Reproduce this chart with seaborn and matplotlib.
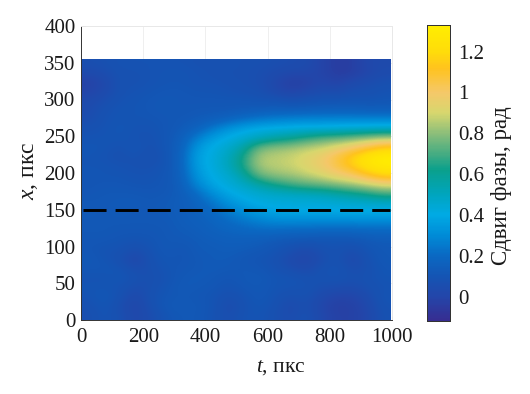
import numpy as np
import seaborn as sns
import matplotlib.pyplot as plt
from matplotlib.colors import LinearSegmentedColormap
from matplotlib.transforms import Affine2D

# -----------------------------
# DATA
# -----------------------------
t_step = 49.8
x_step = 12.68

# rows go from x = 0 upwards, columns from t = 0 rightwards
phase_shift = np.array([
    [.06, .10, .07, .01, .05, .10, .12, .12, .09, .05, .09, .10, .07, .04, .08, .02, -.02, -.02, .01, .08],
    [.07, .11, .06, .00, .07, .12, .13, .12, .10, .04, .08, .11, .08, .03, .07, .01, -.03, -.02, .02, .09],
    [.09, .12, .08, .02, .08, .11, .12, .11, .10, .06, .09, .12, .09, .06, .08, .03, .00, .00, .04, .10],
    [.10, .10, .09, .05, .07, .10, .13, .12, .11, .09, .11, .12, .10, .09, .09, .06, .05, .04, .07, .09],
    [.09, .09, .11, .08, .06, .09, .12, .13, .12, .10, .12, .13, .10, .10, .08, .08, .09, .07, .08, .10],
    [.11, .11, .10, .05, .07, .10, .11, .12, .13, .12, .12, .11, .09, .06, .03, .08, .10, .05, .07, .11],
    [.12, .10, .07, .01, .08, .11, .10, .12, .13, .13, .11, .10, .08, .03, .00, .05, .09, .02, .08, .12],
    [.11, .09, .09, .05, .09, .12, .10, .13, .13, .14, .13, .12, .10, .07, .03, .07, .09, .05, .10, .12],
    [.11, .11, .10, .09, .10, .12, .12, .13, .14, .15, .15, .14, .12, .11, .10, .10, .10, .10, .12, .13],
    [.12, .12, .11, .11, .11, .12, .13, .14, .16, .17, .18, .19, .19, .18, .18, .17, .17, .17, .18, .18],
    [.12, .12, .12, .12, .12, .12, .14, .15, .17, .20, .23, .26, .28, .28, .28, .28, .28, .28, .28, .28],
    [.13, .12, .13, .12, .12, .13, .14, .16, .19, .24, .30, .34, .37, .38, .38, .38, .38, .39, .39, .39],
    [.12, .12, .13, .13, .12, .13, .14, .17, .23, .31, .37, .41, .42, .43, .43, .43, .44, .45, .45, .46],
    [.11, .12, .12, .12, .11, .12, .14, .20, .30, .38, .42, .45, .47, .48, .49, .51, .54, .58, .62, .68],
    [.10, .11, .11, .10, .10, .11, .15, .28, .38, .43, .48, .55, .62, .68, .72, .74, .78, .82, .87, .92],
    [.11, .10, .10, .09, .09, .11, .16, .33, .41, .45, .56, .74, .80, .82, .86, .90, .96, 1.00, 1.10, 1.18],
    [.10, .10, .09, .08, .08, .10, .17, .36, .42, .50, .64, .84, .86, .88, .92, .97, 1.05, 1.15, 1.25, 1.30],
    [.10, .09, .07, .09, .06, .10, .17, .37, .42, .50, .64, .84, .86, .88, .92, .97, 1.06, 1.17, 1.27, 1.32],
    [.11, .10, .08, .11, .07, .11, .16, .34, .41, .46, .56, .76, .80, .82, .86, .88, .94, 1.00, 1.08, 1.16],
    [.09, .10, .10, .09, .08, .11, .15, .26, .36, .41, .45, .50, .56, .60, .66, .72, .74, .78, .82, .86],
    [.08, .09, .11, .09, .09, .11, .13, .17, .25, .33, .38, .41, .42, .43, .44, .44, .45, .46, .47, .48],
    [.05, .09, .10, .10, .10, .11, .12, .13, .15, .18, .22, .25, .27, .28, .29, .29, .29, .29, .29, .29],
    [.04, .08, .10, .10, .11, .12, .11, .12, .12, .12, .13, .14, .15, .15, .15, .16, .16, .16, .15, .15],
    [.03, .06, .09, .10, .11, .12, .11, .11, .11, .11, .11, .10, .10, .08, .09, .10, .10, .11, .10, .11],
    [.00, .03, .08, .09, .10, .11, .11, .10, .10, .09, .08, .07, .03, .00, .02, .05, .04, .07, .07, .09],
    [-.02, .02, .08, .08, .09, .10, .10, .09, .09, .08, .07, .06, .02, -.03, -.02, .02, -.01, .03, .05, .07],
    [.03, .05, .08, .08, .09, .10, .10, .09, .08, .07, .07, .06, .04, .02, .02, .00, -.04, -.03, .01, .04],
    [.06, .07, .09, .09, .09, .09, .09, .08, .08, .08, .07, .07, .06, .05, .04, .00, -.04, -.03, .02, .03],
])

dash_t = [5, 995]
dash_x = [150, 150]

t_ticks = [0, 200, 400, 600, 800, 1000]
x_ticks = [0, 50, 100, 150, 200, 250, 300, 350, 400]
cbar_ticks = [0, 0.2, 0.4, 0.6, 0.8, 1, 1.2]
cbar_labels = ["0", "0.2", "0.4", "0.6", "0.8", "1", "1.2"]
vmin, vmax = -0.12, 1.33

# colours sampled from the reference colorbar, value -> rgb
cmap_values = [-0.12, 0.0, 0.1, 0.2, 0.3, 0.4, 0.5, 0.62, 0.7, 0.8, 0.9, 1.0, 1.12, 1.2, 1.33]
cmap_rgb = [(55, 45, 145), (35, 70, 170), (20, 85, 180), (10, 105, 195), (0, 140, 215),
            (0, 170, 228), (0, 165, 190), (10, 160, 140), (70, 172, 130), (140, 190, 122),
            (215, 215, 110), (245, 200, 105), (255, 195, 30), (255, 220, 10), (255, 238, 0)]
cmap_nodes = [((v - vmin) / (vmax - vmin), tuple(c / 255 for c in rgb))
              for v, rgb in zip(cmap_values, cmap_rgb)]
phase_cmap = LinearSegmentedColormap.from_list("phase", cmap_nodes)

# -----------------------------
# PLOT
# -----------------------------
sns.set_style("white")
plt.rcParams["font.family"] = ["Liberation Serif", "DejaVu Serif"]
plt.rcParams["mathtext.fontset"] = "custom"
plt.rcParams["mathtext.it"] = "Liberation Serif:italic"
plt.rcParams["mathtext.rm"] = "Liberation Serif"

W, H = 530, 394
fig = plt.figure(figsize=(W / 100, H / 100), dpi=100)
ax = fig.add_axes([81 / W, (H - 320) / H, 311 / W, 294 / H])
cax = fig.add_axes([427 / W, (H - 321) / H, 23 / W, 296 / H])

sns.heatmap(phase_shift, ax=ax, cbar_ax=cax, cmap=phase_cmap, vmin=vmin, vmax=vmax,
            xticklabels=False, yticklabels=False)

# heatmap works in cell numbers, put its mesh in t/x units
mesh = ax.collections[0]
mesh.set_transform(Affine2D().scale(t_step, x_step) + ax.transData)

# same cells again, smoothed, the reference has no visible blocks
n_rows, n_cols = phase_shift.shape
ax.imshow(phase_shift, origin="lower", aspect="auto", cmap=phase_cmap, vmin=vmin, vmax=vmax,
          extent=(0, n_cols * t_step, 0, n_rows * x_step), interpolation="bicubic", zorder=2)

ax.plot(dash_t, dash_x, color="black", lw=2.1, dashes=(7.9, 3.1), zorder=3)

ax.set_xlim(0, 1000)
ax.set_ylim(0, 400)
ax.set_xticks(t_ticks)
ax.set_xticklabels([str(v) for v in t_ticks])
ax.set_yticks(x_ticks)
ax.set_yticklabels([str(v) for v in x_ticks])
ax.tick_params(axis="x", labelsize=15, direction="in", length=3, width=0.6,
               color="#333333", pad=6, labelcolor="#1a1a1a", bottom=True)
ax.tick_params(axis="y", labelsize=15, direction="in", length=3, width=0.6,
               color="#333333", pad=4, labelcolor="#1a1a1a", left=True)
ax.grid(True, color="#efefef", lw=0.7)
ax.set_axisbelow(True)
for side in ["top", "right"]:
    ax.spines[side].set_visible(True)
    ax.spines[side].set_color("#e8e8e8")
    ax.spines[side].set_linewidth(0.7)
for side in ["left", "bottom"]:
    ax.spines[side].set_visible(True)
    ax.spines[side].set_color("#333333")
    ax.spines[side].set_linewidth(0.7)

ax.set_xlabel("$t$, пкс", fontsize=15.5, color="#1a1a1a")
ax.xaxis.set_label_coords(0.643, -0.128)
ax.set_ylabel("$x$, пкс", fontsize=17, color="#1a1a1a")
ax.yaxis.set_label_coords(-0.132, 0.507)

cax.set_yticks(cbar_ticks)
cax.set_yticklabels(cbar_labels)
cax.tick_params(labelsize=15, direction="in", length=3, width=0.6, color="#333333",
                pad=6, labelcolor="#1a1a1a", right=True)
cax.set_ylabel("Сдвиг фазы, рад", fontsize=16.5, color="#1a1a1a")
cax.yaxis.set_label_position("right")
cax.yaxis.set_label_coords(2.8, 0.456)
for spine in cax.spines.values():
    spine.set_visible(True)
    spine.set_color("#333333")
    spine.set_linewidth(0.7)

fig.savefig("out.png", dpi=100)
